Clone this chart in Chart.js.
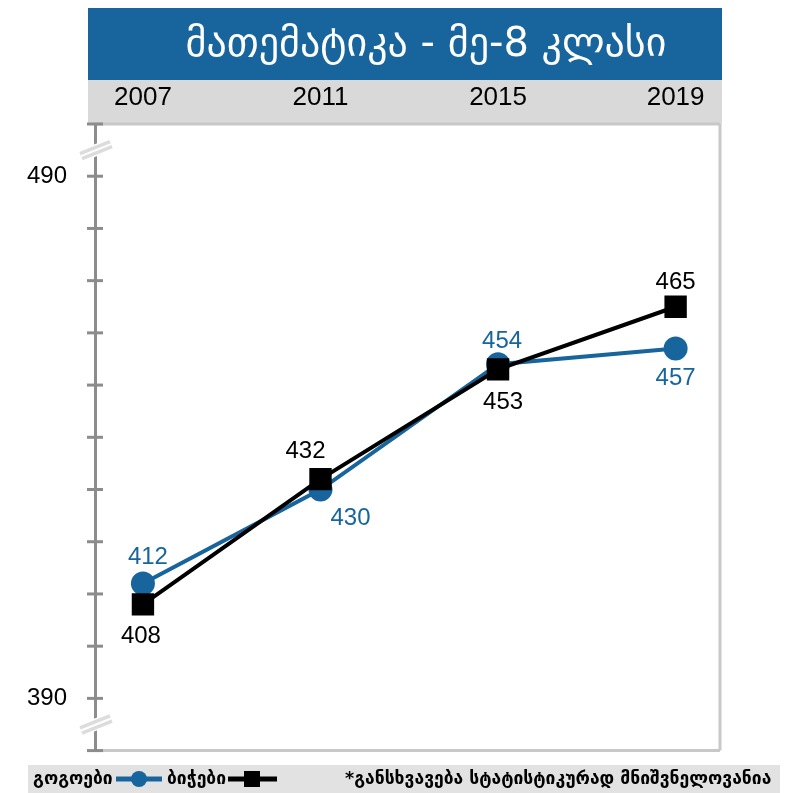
<!DOCTYPE html>
<html>
<head>
<meta charset="utf-8">
<script src="https://cdn.jsdelivr.net/npm/chart.js@4.4.1/dist/chart.umd.min.js"></script>
<style>
  html, body { margin: 0; padding: 0; background: #fff; }
  #wrap { width: 790px; height: 793px; position: relative; }
</style>
</head>
<body>
<div id="wrap"><canvas id="grafiko" width="790" height="793"></canvas></div>
<script>
// მონაცემები
const titulo = "მათემატიკა - მე-8 კლასი"
const anos = [2007, 2011, 2015, 2019]
const gogoebi = [412, 430, 454, 457]
const bichebi = [408, 432, 453, 465]
const etiqueta_gogoebi = "გოგოები"
const etiqueta_bichebi = "ბიჭები"
const nota = "*განსხვავება სტატისტიკურად მნიშვნელოვანია"
const y_labels = [390, 490]

// estilo
const azul = "#17659c"
const gris_banda = "#d9d9d9"
const gris_eje = "#8c8c8c"
// donde va cada etiqueta: [dx, dy]
const pos_gogoebi = [[5, -26], [30, 29], [4, -23], [0, 30]]
const pos_bichebi = [[-2, 32], [-15, -28], [5, 33], [0, -24]]

const fondos = {
    id: 'fondos',
    beforeDraw(chart) {
        const ctx = chart.ctx
        const a = chart.chartArea
        ctx.save()
        // banda del titulo
        ctx.fillStyle = azul
        ctx.fillRect(88, 8, 634, 72)
        ctx.fillStyle = gris_banda
        ctx.fillRect(88, 80, 634, a.top - 80)
        ctx.fillStyle = "#fff"
        ctx.font = "40px 'DejaVu Sans'"
        ctx.textAlign = "center"
        ctx.textBaseline = "middle"
        ctx.fillText(titulo, 426, 46)
        // bordes
        ctx.strokeStyle = "#c8c8c8"
        ctx.lineWidth = 3
        ctx.beginPath()
        ctx.moveTo(a.left, a.top)
        ctx.lineTo(a.right, a.top)
        ctx.moveTo(a.right, a.top)
        ctx.lineTo(a.right, a.bottom)
        ctx.moveTo(a.left, a.bottom)
        ctx.lineTo(a.right, a.bottom)
        ctx.stroke()
        ctx.restore()
    },
    afterDatasetsDraw(chart) {
        const ctx = chart.ctx
        const y = chart.scales.y
        const a = chart.chartArea
        ctx.save()
        // marcas del eje
        ctx.strokeStyle = gris_eje
        ctx.lineWidth = 3
        y.ticks.forEach(t => {
            const py = y.getPixelForValue(t.value)
            ctx.beginPath()
            ctx.moveTo(a.left - 8, py)
            ctx.lineTo(a.left + 8, py)
            ctx.stroke()
        })
        // cortes del eje
        const cortes = [495, 385]
        cortes.forEach(v => {
            const py = y.getPixelForValue(v)
            ctx.lineCap = "butt"
            ctx.strokeStyle = "#ffffff"
            ctx.lineWidth = 12
            ctx.beginPath()
            ctx.moveTo(a.left - 15, py + 6)
            ctx.lineTo(a.left + 17, py - 6)
            ctx.stroke()
            ctx.strokeStyle = "#dcdcdc"
            ctx.lineWidth = 9
            ctx.beginPath()
            ctx.moveTo(a.left - 14, py + 6)
            ctx.lineTo(a.left + 16, py - 6)
            ctx.stroke()
            ctx.strokeStyle = "#ffffff"
            ctx.lineWidth = 2
            ctx.beginPath()
            ctx.moveTo(a.left - 14, py + 6)
            ctx.lineTo(a.left + 16, py - 6)
            ctx.stroke()
        })
        // etiquetas de valores
        ctx.font = "24px 'Liberation Sans'"
        ctx.textAlign = "center"
        ctx.textBaseline = "middle"
        const ponerEtiquetas = (idx, valores, posiciones, color) => {
            const meta = chart.getDatasetMeta(idx)
            meta.data.forEach((p, i) => {
                ctx.fillStyle = color
                ctx.fillText(String(valores[i]), p.x + posiciones[i][0], p.y + posiciones[i][1])
            })
        }
        ponerEtiquetas(0, gogoebi, pos_gogoebi, azul)
        ponerEtiquetas(1, bichebi, pos_bichebi, "#000")

        // leyenda
        ctx.fillStyle = "#e2e2e2"
        ctx.fillRect(28, 765, 752, 28)
        ctx.fillStyle = "#000"
        ctx.font = "bold 17.5px 'DejaVu Sans'"
        ctx.textAlign = "left"
        ctx.textBaseline = "middle"
        const ly = 779
        ctx.fillText(etiqueta_gogoebi, 33, ly)
        ctx.strokeStyle = azul
        ctx.lineWidth = 5
        ctx.beginPath()
        ctx.moveTo(116, ly)
        ctx.lineTo(162, ly)
        ctx.stroke()
        ctx.fillStyle = azul
        ctx.beginPath()
        ctx.arc(139, ly, 8, 0, Math.PI * 2)
        ctx.fill()
        ctx.fillStyle = "#000"
        ctx.fillText(etiqueta_bichebi, 167, ly)
        ctx.strokeStyle = "#000"
        ctx.beginPath()
        ctx.moveTo(228, ly)
        ctx.lineTo(277, ly)
        ctx.stroke()
        ctx.fillRect(244, ly - 8, 16, 16)
        ctx.fillText(nota, 345, ly)
        ctx.restore()
    }
}

new Chart(document.getElementById("grafiko"), {
    type: 'line',
    data: {
        datasets: [{
            label: etiqueta_gogoebi,
            data: anos.map((a, i) => ({ x: a, y: gogoebi[i] })),
            borderColor: azul,
            backgroundColor: azul,
            borderWidth: 4,
            pointRadius: 10,
            pointHoverRadius: 10,
            pointStyle: 'circle',
            order: 2
        }, {
            label: etiqueta_bichebi,
            data: anos.map((a, i) => ({ x: a, y: bichebi[i] })),
            borderColor: "#000",
            backgroundColor: "#000",
            borderWidth: 4,
            pointRadius: 13,
            pointHoverRadius: 13,
            pointStyle: 'rect',
            order: 1
        }]
    },
    options: {
        responsive: false,
        animation: false,
        layout: { padding: { top: 80, right: 70, bottom: 42, left: 0 } },
        plugins: { legend: { display: false }, tooltip: { enabled: false } },
        scales: {
            x: {
                type: 'linear',
                position: 'top',
                min: 2005.92,
                max: 2020,
                afterBuildTicks: (s) => { s.ticks = anos.map(v => ({ value: v })) },
                afterFit: (s) => { s.height = 44 },
                grid: { display: false },
                border: { display: false },
                ticks: {
                    color: "#000",
                    font: { family: "Liberation Sans", size: 26 },
                    callback: (v) => String(v),
                    maxRotation: 0,
                    autoSkip: false
                }
            },
            y: {
                min: 380,
                max: 500,
                afterBuildTicks: (s) => {
                    const t = []
                    for (let v = 380; v <= 500; v += 10) t.push({ value: v })
                    s.ticks = t
                },
                afterFit: (s) => { s.width = 95 },
                grid: { display: false, drawTicks: false },
                border: { display: true, color: gris_eje, width: 3 },
                ticks: {
                    color: "#000",
                    padding: 28,
                    font: { family: "Liberation Sans", size: 24 },
                    autoSkip: false,
                    callback: (v) => y_labels.includes(v) ? String(v) : ''
                }
            }
        }
    },
    plugins: [fondos]
})
</script>
</body>
</html>
